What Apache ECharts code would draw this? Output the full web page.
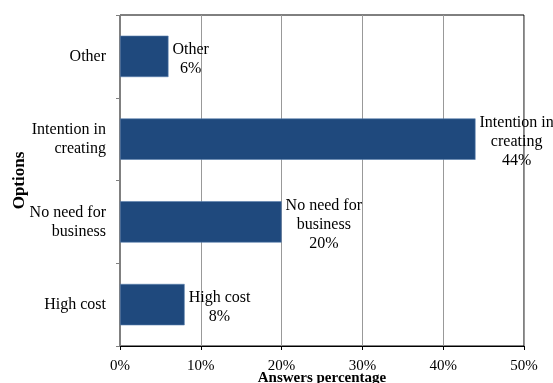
<!DOCTYPE html>
<html>
<head>
<meta charset="utf-8">
<script src="https://cdn.jsdelivr.net/npm/echarts@6/dist/echarts.min.js"></script>
<style>
  html, body { margin: 0; padding: 0; background: #fff; }
  #chart { width: 553px; height: 383px; }
</style>
</head>
<body>
<div id="chart"></div>
<script>
// Survey answers, listed bottom to top
const categories = ['High cost', 'No need for\nbusiness', 'Intention in\ncreating', 'Other'];
const answerShares = [8, 20, 44, 6];
const xTicks = [0, 10, 20, 30, 40, 50];

const serif = '"Liberation Serif", "Times New Roman", serif';
const labelFont = '16px ' + serif;

// Width of the widest line of a multi-line label, so that centred
// lines can still start right after the end of the bar.
const measureCtx = document.createElement('canvas').getContext('2d');
measureCtx.font = labelFont;
function blockWidth(text) {
  return Math.max.apply(null, text.split('\n').map(s => measureCtx.measureText(s).width));
}

const barData = answerShares.map((v, i) => {
  const text = categories[i] + '\n' + v + '%';
  return { value: v, label: { offset: [blockWidth(text) / 2, 3] } };
});

const chart = echarts.init(document.getElementById('chart'));
chart.setOption({
  animation: false,
  backgroundColor: '#fff',
  grid: {
    left: 120, right: 29, top: 15, bottom: 37,
    outerBoundsMode: 'none',
    containLabel: false,
    show: true, borderColor: '#000', borderWidth: 1
  },
  xAxis: {
    type: 'value',
    min: xTicks[0], max: xTicks[xTicks.length - 1], interval: 10,
    name: 'Answers percentage',
    nameLocation: 'middle', nameGap: 25, nameMoveOverlap: false,
    nameTextStyle: { fontFamily: serif, fontSize: 15, fontWeight: 'bold', color: '#000' },
    axisLine: { show: true, lineStyle: { color: '#000', width: 1 } },
    axisTick: { show: true, length: 4, lineStyle: { color: '#000' } },
    axisLabel: { formatter: '{value}%', fontFamily: serif, fontSize: 15, color: '#000', margin: 13 },
    splitLine: { show: true, lineStyle: { color: '#999', width: 1 } }
  },
  yAxis: {
    type: 'category',
    data: categories,
    name: 'Options',
    nameLocation: 'middle', nameGap: 92, nameRotate: 90, nameMoveOverlap: false,
    nameTextStyle: { fontFamily: serif, fontSize: 17, fontWeight: 'bold', color: '#000' },
    axisLine: { show: true, lineStyle: { color: '#808080', width: 1 } },
    axisTick: { show: true, length: 4, lineStyle: { color: '#808080' } },
    axisLabel: {
      fontFamily: serif, fontSize: 16, color: '#000', margin: 14, lineHeight: 19,
      align: 'right', padding: [6, 0, 0, 0]
    },
    splitLine: { show: false }
  },
  series: [{
    type: 'bar',
    data: barData,
    barWidth: '50%',
    itemStyle: { color: '#1f497d', borderColor: '#5a7fae', borderWidth: 0.6 },
    label: {
      show: true,
      position: 'right',
      distance: 4,
      formatter: p => p.name + '\n' + p.value + '%',
      fontFamily: serif, fontSize: 16, color: '#000',
      lineHeight: 19, align: 'center'
    }
  }]
});
</script>
</body>
</html>
